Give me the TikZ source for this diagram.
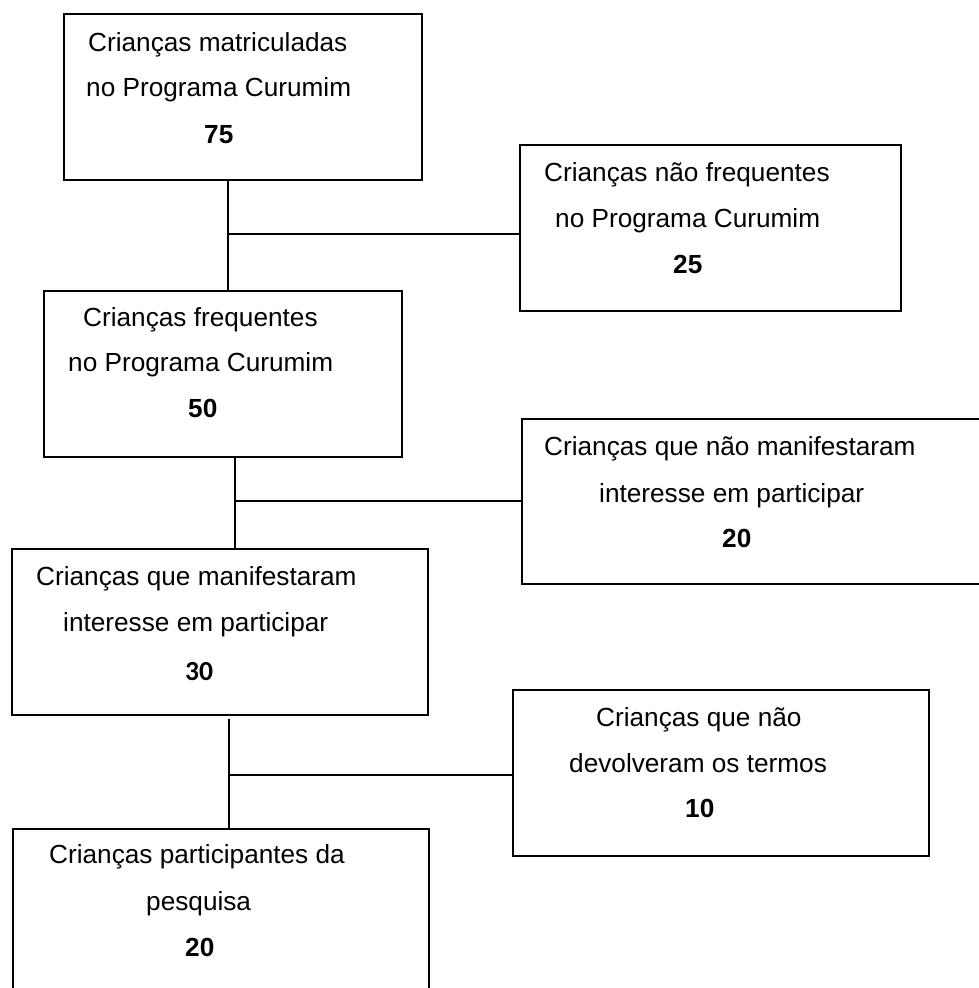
\documentclass[tikz,border=0pt]{standalone}
\usepackage{fontspec}
\setmainfont{Liberation Sans}
\newfontfamily\carlitofont{Carlito}
\begin{document}
\begin{tikzpicture}[x=1pt,y=-1pt,
  box/.style={draw=black,line width=2pt,rectangle,inner sep=0pt,fill=none},
  txt/.style={anchor=base west,inner sep=0pt,font=\fontsize{26.2}{30}\selectfont},
  num/.style={anchor=base west,inner sep=0pt,font=\fontsize{26.2}{30}\selectfont\bfseries},
  numc/.style={anchor=base west,inner sep=0pt,font=\fontsize{27.6}{30}\selectfont\carlitofont\bfseries},
  conn/.style={draw=black,line width=1.8pt}]
\useasboundingbox (0,0) rectangle (979,988);
% boxes
\node[box,minimum width=358pt,minimum height=166pt] (b1) at (243,97) {};
\node[box,minimum width=381pt,minimum height=166pt] (b2) at (710.5,228) {};
\node[box,minimum width=358pt,minimum height=166pt] (b3) at (223,374) {};
\node[box,minimum width=488pt,minimum height=165pt] (b4) at (766,501.5) {};
\node[box,minimum width=416pt,minimum height=166pt] (b5) at (220,632) {};
\node[box,minimum width=416pt,minimum height=166pt] (b6) at (721,773) {};
\node[box,minimum width=416pt,minimum height=166pt] (b7) at (221,912) {};
% texts
\node[txt] (t1a) at (88,51) {Crianças matriculadas};
\node[txt] (t1b) at (86,96) {no Programa Curumim};
\node[num] (t1c) at (204,143) {75};
\node[txt] (t2a) at (544,181) {Crianças não frequentes};
\node[txt] (t2b) at (555,227) {no Programa Curumim};
\node[num] (t2c) at (673,273) {25};
\node[txt] (t3a) at (83,326) {Crianças frequentes};
\node[txt] (t3b) at (68,371) {no Programa Curumim};
\node[num] (t3c) at (188,417) {50};
\node[txt] (t4a) at (544,455) {Crianças que não manifestaram};
\node[txt] (t4b) at (599,502) {interesse em participar};
\node[num] (t4c) at (722,547) {20};
\node[txt] (t5a) at (36,585) {Crianças que manifestaram};
\node[txt] (t5b) at (63,631) {interesse em participar};
\node[numc] (t5c) at (185,680) {30};
\node[txt] (t6a) at (596,726) {Crianças que não};
\node[txt] (t6b) at (569,772) {devolveram os termos};
\node[num] (t6c) at (685,817) {10};
\node[txt] (t7a) at (49,863) {Crianças participantes da};
\node[txt] (t7b) at (146,910) {pesquisa};
\node[num] (t7c) at (185,956) {20};
% connectors
\coordinate (j1) at (228,234);
\coordinate (j2) at (235,501);
\coordinate (j3) at (229,775);
\coordinate (s3) at (229,719);
\draw[conn] (b1.south -| j1) -- (b3.north -| j1);
\draw[conn] (j1) -- (j1 -| b2.west);
\draw[conn] (b3.south -| j2) -- (b5.north -| j2);
\draw[conn] (j2) -- (j2 -| b4.west);
\draw[conn] (s3) -- (b7.north -| j3);
\draw[conn] (j3) -- (j3 -| b6.west);
\end{tikzpicture}
\end{document}
